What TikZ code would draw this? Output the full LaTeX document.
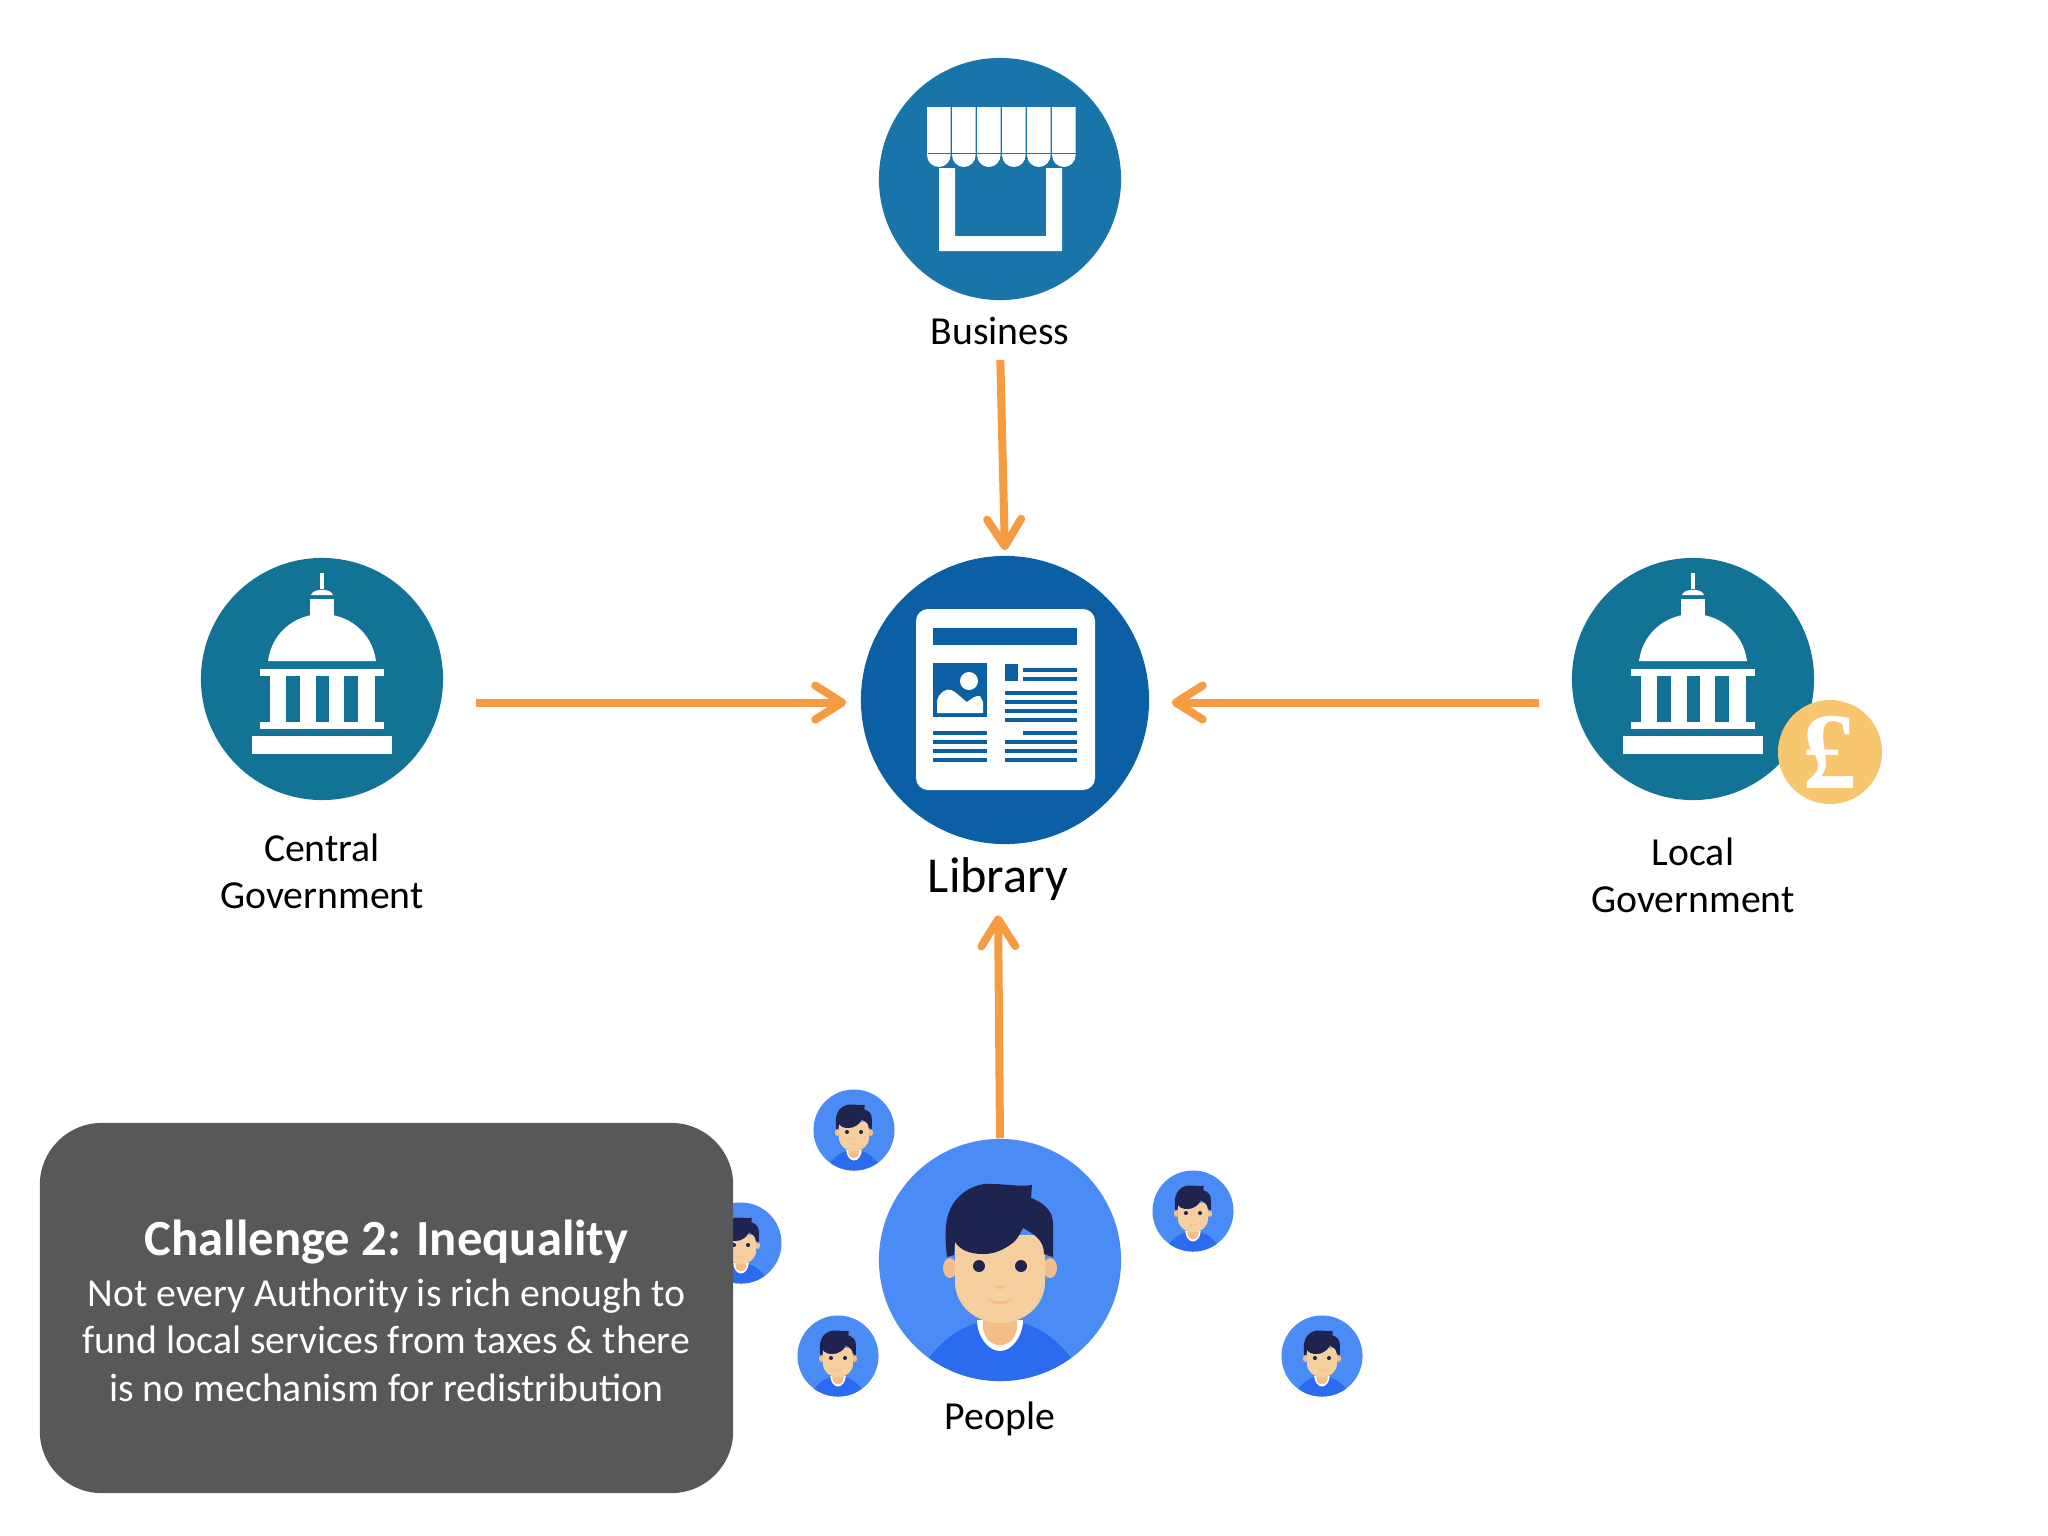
\documentclass[tikz,border=0pt]{standalone}
\usepackage{xcolor}
\usepackage{fontspec}
\setmainfont{Carlito}
\newfontfamily\coinfont{Liberation Serif}
\usepackage{tikz}
\usetikzlibrary{positioning,arrows.meta}
\definecolor{shopblue}{HTML}{1874A9}
\definecolor{libblue}{HTML}{0B5FA5}
\definecolor{govblue}{HTML}{137397}
\definecolor{peopleblue}{HTML}{4A8BF5}
\definecolor{shirtblue}{HTML}{2B6BF0}
\definecolor{hairblue}{HTML}{1F2350}
\definecolor{skin}{HTML}{F6CF9F}
\definecolor{neck}{HTML}{F5BD8A}
\definecolor{flow}{HTML}{F59B42}
\definecolor{coin}{HTML}{F8C66E}
\definecolor{panel}{HTML}{58585A}
\tikzset{badge/.style={circle,inner sep=0pt,minimum size=#1}}
\tikzset{tag/.style={align=center,inner sep=0pt,font=\fontsize{11.3}{13.4}\selectfont}}
\tikzset{flowline/.style={draw=flow,line width=0.08cm,-{Straight Barb[length=0.27cm,width=0.34cm,line width=0.08cm,round]}}}
% the icons are drawn around the centre of their badge
\tikzset{capitol/.pic={
  \fill[white] (-1.7,-106) rectangle (1.7,-90);
  \fill[white] (-11,-84) .. controls (-9,-91) and (9,-91) .. (11,-84) -- cycle;
  \fill[white] (-11.7,-80) rectangle (11.7,-60);
  \fill[white] (-54,-18) .. controls (-50,-48) and (-25,-65) .. (0,-65) .. controls (25,-65) and (50,-48) .. (54,-18) -- cycle;
  \fill[white] (-62,-10) rectangle (62,-3);
  \foreach \col/\wid in {-52/16,-22/16,7/15,36/17}
    \fill[white] (\col,-3) rectangle (\col+\wid,43);
  \fill[white] (-62,43) rectangle (62,50);
  \fill[white] (-70,57) rectangle (70,75);
}}
\tikzset{shop/.pic={
  \foreach \i [evaluate=\i as \sx using -73+25*\i] in {0,...,5}
    \fill[white] (\sx,-72) -- (\sx+23.6,-72) -- (\sx+23.6,-24) arc[start angle=0,end angle=180,x radius=11.8,y radius=12] -- cycle;
  \draw[shopblue,line width=0.25pt] (-72,-26) -- (76,-26);
  \fill[white] (-61,-11) -- (-45,-11) -- (-45,57) -- (46,57) -- (46,-11) -- (62,-11) -- (62,72) -- (-61,72) -- cycle;
}}
\tikzset{paper/.pic={
  \fill[white,rounded corners=0.12cm] (-89,-91) rectangle (90,90);
  \fill[libblue] (-72,-72) rectangle (72,-55);
  \fill[libblue] (-72,-37) rectangle (-18,17);
  \fill[white] (-36,-19) circle (9);
  \fill[white] (-68,13) -- (-68,1) .. controls (-66,-8) and (-58,-12) .. (-54,-10) .. controls (-48,-8) and (-42,0) .. (-38,2) .. controls (-34,-1) and (-29,-5) .. (-25,-4) -- (-22,2) -- (-22,13) -- cycle;
  \fill[libblue] (0,-36) rectangle (13,-19);
  \foreach \ly in {33,42,51,60}
    \fill[libblue] (-72,\ly-2) rectangle (-18,\ly+2);
  \foreach \ly in {-7,2,11,20,42,51,60}
    \fill[libblue] (0,\ly-2) rectangle (72,\ly+2);
  \foreach \ly in {-30,-21,33}
    \fill[libblue] (18,\ly-2) rectangle (72,\ly+2);
}}
\tikzset{person/.pic={
  \begin{scope}
    \clip (0,0) circle (121);
    \fill[shirtblue] (-72,99) .. controls (-50,70) and (-25,60) .. (0,60) .. controls (25,60) and (50,70) .. (72,99) -- (72,125) -- (-72,125) -- cycle;
  \end{scope}
  \fill[white] (-23,60) .. controls (-23,76) and (-12,91) .. (0,91) .. controls (12,91) and (23,76) .. (23,60) -- cycle;
  \fill[neck] (-17,55) -- (-17,68) .. controls (-15,80) and (-8,85) .. (0,85) .. controls (8,85) and (15,80) .. (17,68) -- (17,55) -- cycle;
  \fill[neck] (-50,8) ellipse (7 and 10);
  \fill[neck] (50,8) ellipse (7 and 10);
  \fill[skin] (-45,-25) -- (45,-25) -- (45,22) .. controls (45,45) and (25,63) .. (0,63) .. controls (-25,63) and (-45,45) .. (-45,22) -- cycle;
  \fill[hairblue] (-53,-3) .. controls (-56,-30) and (-56,-52) .. (-37,-67) .. controls (-27,-75) and (-15,-77) .. (-7,-76) .. controls (5,-76) and (20,-73) .. (32,-75) -- (31,-62) .. controls (42,-58) and (53,-50) .. (53,-37) -- (53,-3) -- (44,-6) .. controls (44,-20) and (34,-26) .. (23,-32) .. controls (18,-22) and (15,-18) .. (10,-15) .. controls (-2,-7) and (-10,-6) .. (-17,-6) .. controls (-30,-6) and (-40,-10) .. (-45,-18) -- (-46,-5) -- cycle;
  \fill[hairblue] (-21,6) circle (6);
  \fill[hairblue] (21,6) circle (6);
  \fill[neck] (0,27) ellipse (5 and 2);
  \fill[neck] (-14,37) .. controls (-8,47) and (8,47) .. (14,37) .. controls (8,43) and (-8,43) .. (-14,37) -- cycle;
}}
\begin{document}
\begin{tikzpicture}[x=0.01cm,y=-0.01cm]
  \useasboundingbox (0,0) rectangle (2048,1536);
  % The five actors and the library in the middle
  \node[badge=2.42cm,fill=shopblue] (business) at (1000,179) {};
  \node[badge=2.88cm,fill=libblue] (library) at (1005,700) {};
  \node[badge=2.42cm,fill=govblue] (central) at (322,679) {};
  \node[badge=2.42cm,fill=govblue] (local) at (1693,679) {};
  \node[badge=2.42cm,fill=peopleblue] (people) at (1000,1260) {};
  \pic at (business) {shop};
  \pic at (library) {paper};
  \pic at (central) {capitol};
  \pic at (local) {capitol};
  \pic at (people) {person};
  \node[badge=1.04cm,fill=coin,text=white,font=\fontsize{31}{31}\coinfont\bfseries] (pound) at (1830,752) {£};

  % Labels hang below their badges
  \node[tag] (businesstag) [below = 0.16cm of business] {Business};
  \node[tag,font=\fontsize{14.3}{17}\selectfont] (librarytag) [below = 0.12cm of library,xshift=-0.07cm] {Library};
  \node[tag] (centraltag) [below = 0.32cm of central] {Central\\Government};
  \node[tag] (localtag) [below = 0.36cm of local] {Local\\Government};
  \node[tag] (peopletag) [below = 0.19cm of people] {People};

  % Small people around the big one
  \foreach \name/\pos in {smallone/{(854,1130)},smalltwo/{(741,1243)},smallthree/{(838,1356)},smallfour/{(1193,1211)},smallfive/{(1322,1356)}} {
    \node[badge=0.81cm,fill=peopleblue] (\name) at \pos {};
    \pic[scale=0.335] at (\name) {person};
  }

  % Funding flows
  \draw[flowline,shorten <=0.14cm,shorten >=0.05cm] (businesstag.south) -- (library.north);
  \draw[flowline,shorten <=0.32cm,shorten >=0.14cm] (central.east |- library.181) -- (library.181);
  \draw[flowline,shorten <=0.32cm,shorten >=0.22cm] (local.west |- library.-1) -- (library.-1);
  \draw[flowline,shorten >=0.14cm] (people.north) -- (librarytag.south);

  \node[fill=panel,rounded corners=0.62cm,minimum width=6.93cm,minimum height=3.7cm,align=center,text=white,inner sep=0pt,font=\fontsize{11.3}{13.4}\selectfont] (challenge) at (386.5,1308) {{\rule{0pt}{0.41cm}\fontsize{14.4}{17}\selectfont\bfseries Challenge 2: Inequality}\\[0.04cm]Not every Authority is rich enough to\\fund local services from taxes \& there\\is no mechanism for redistribution};
\end{tikzpicture}
\end{document}
